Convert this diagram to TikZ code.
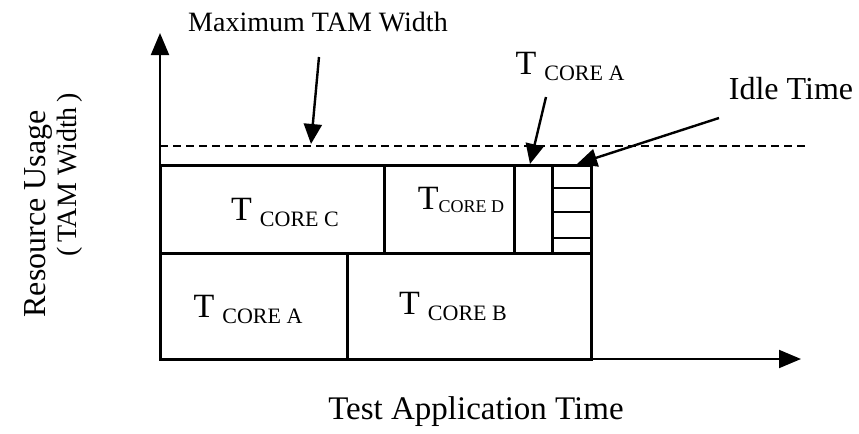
\documentclass[tikz,border=0pt]{standalone}
\usepackage{fontspec}
\setmainfont{Liberation Serif}
\usetikzlibrary{arrows.meta}
% T with a lowered CORE subscript: gap, size, drop, letter
\newcommand{\tcore}[4]{{\fontsize{17}{17}\selectfont T}\hspace*{#1}\raisebox{-#3}{\fontsize{#2}{#2}\selectfont CORE #4}}
\tikzset{
  axis/.style={black,line width=1pt,-{Triangle[length=11pt,width=9pt]}},
  maxline/.style={black,line width=0.7pt,dash pattern=on 4pt off 2.5pt},
  slot/.style={black,line width=1.5pt},
  hatch/.style={black,line width=0.8pt},
  pointer/.style={black,line width=1.2pt,-{Triangle[length=10pt,width=9pt]}},
  lab/.style={inner sep=0pt},
}
\begin{document}
\begin{tikzpicture}[x=0.5pt,y=-0.5pt]
  \path[use as bounding box] (0,0) rectangle (859,434);

  % axes
  \coordinate (origin) at (160,359);
  \coordinate (ytip) at (160,33);
  \coordinate (xtip) at (801,359);
  \draw[axis] (origin) -- (ytip);
  \draw[axis] (origin) -- (xtip);

  % maximum TAM width
  \coordinate (maxleft) at (160,146);
  \coordinate (maxright) at (806,146);
  \draw[maxline] (maxleft) -- (maxright);

  % bottom row
  \draw[slot] (160,253) rectangle (347,359);
  \draw[slot] (347,253) rectangle (591,359);
  % top row
  \draw[slot] (160,165) rectangle (384,253);
  \draw[slot] (384,165) rectangle (514,253);
  \draw[slot] (514,165) rectangle (552,253);
  \draw[slot] (552,165) -- (591,165) -- (591,253);
  \foreach \y in {188,212,238}
    \draw[hatch] (552,\y) -- (591,\y);

  % slot labels
  \node[lab] (coreC) at (285,212) {\tcore{4pt}{11}{3pt}{C}};
  \node[lab] (coreD) at (461,200) {\tcore{0pt}{9}{1.5pt}{D}};
  \node[lab] (coreA) at (248,309) {\tcore{4pt}{11}{3pt}{A}};
  \node[lab] (coreB) at (453,306) {\tcore{4pt}{11}{3pt}{B}};

  % callouts
  \node[lab,font=\fontsize{14}{14}\selectfont] (maxlbl) at (318,22) {Maximum TAM Width};
  \node[lab] (tcorelbl) at (570,66) {\tcore{4pt}{11}{3pt}{A}};
  \node[lab,font=\fontsize{16}{16}\selectfont] (idlelbl) at (791,89) {Idle Time};
  \coordinate (maxfrom) at (319,57);
  \coordinate (maxto) at (311,144);
  \coordinate (tcorefrom) at (546,97);
  \coordinate (tcoreto) at (530,164);
  \coordinate (idlefrom) at (719,118);
  \coordinate (idleto) at (577,164);
  \draw[pointer] (maxfrom) -- (maxto);
  \draw[pointer] (tcorefrom) -- (tcoreto);
  \draw[pointer] (idlefrom) -- (idleto);

  % axis titles
  \node[lab,font=\fontsize{16.5}{16.5}\selectfont] (xtitle) at (476,412) {Test Application Time};
  \node[lab,rotate=90,font=\fontsize{16}{16}\selectfont] (ytitle) at (38,214) {Resource Usage};
  \node[lab,rotate=90,font=\fontsize{14}{14}\selectfont] (ysub) at (70,175) {(\,TAM Width\,)};
\end{tikzpicture}
\end{document}
